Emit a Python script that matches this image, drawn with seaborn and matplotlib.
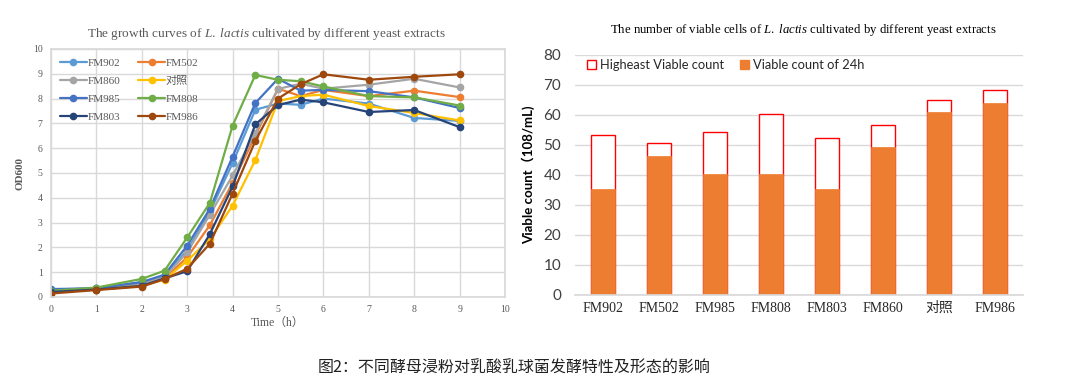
import numpy as np
import pandas as pd
import matplotlib
matplotlib.use("Agg")
import matplotlib.pyplot as plt
import seaborn as sns
from matplotlib.lines import Line2D
from matplotlib.patches import Patch

# ---------------- data ----------------
times = [0, 1, 2, 2.5, 3, 3.5, 4, 4.5, 5, 5.5, 6, 7, 8, 9]
strains = ["FM902", "FM502", "FM860", "对照", "FM985", "FM808", "FM803", "FM986"]
fm902 = [0.30, 0.35, 0.60, 0.85, 1.88, 3.45, 5.40, 7.55, 7.80, 7.75, 8.00, 7.80, 7.22, 7.10]
fm502 = [0.25, 0.30, 0.50, 0.75, 1.60, 2.90, 4.60, 6.50, 8.40, 8.10, 8.35, 8.10, 8.32, 8.06]
fm860 = [0.25, 0.35, 0.55, 0.80, 1.80, 3.32, 4.90, 6.61, 8.39, 8.60, 8.40, 8.56, 8.80, 8.45]
ctrl = [0.20, 0.30, 0.45, 0.70, 1.46, 2.34, 3.68, 5.52, 7.90, 8.10, 8.16, 7.70, 7.42, 7.12]
fm985 = [0.32, 0.35, 0.60, 0.90, 2.07, 3.56, 5.66, 7.82, 8.80, 8.32, 8.35, 8.30, 8.05, 7.62]
fm808 = [0.25, 0.38, 0.73, 1.06, 2.40, 3.80, 6.91, 8.95, 8.76, 8.70, 8.49, 8.10, 8.05, 7.72]
fm803 = [0.20, 0.30, 0.45, 0.75, 1.04, 2.54, 4.46, 6.96, 7.74, 7.96, 7.85, 7.46, 7.54, 6.85]
fm986 = [0.14, 0.28, 0.42, 0.72, 1.14, 2.15, 4.17, 6.29, 8.00, 8.58, 8.98, 8.76, 8.88, 8.98]
series = [fm902, fm502, fm860, ctrl, fm985, fm808, fm803, fm986]
line_colors = ["#5B9BD5", "#ED7D31", "#A5A5A5", "#FFC000", "#4472C4", "#70AD47", "#264478", "#9E480E"]

bar_cats = ["FM902", "FM502", "FM985", "FM808", "FM803", "FM860", "对照", "FM986"]
highest = [53.5, 50.6, 54.2, 60.5, 52.2, 56.7, 64.9, 68.3]
count24 = [35.5, 46.5, 40.2, 40.2, 35.5, 49.4, 61.0, 64.0]

caption = "图2：不同酵母浸粉对乳酸乳球菌发酵特性及形态的影响"

# ---------------- style ----------------
sns.set_theme(style="white")
plt.rcParams["font.family"] = ["Liberation Serif", "Noto Sans CJK SC", "DejaVu Sans"]
plt.rcParams["mathtext.fontset"] = "custom"
plt.rcParams["mathtext.it"] = "Liberation Serif:italic"
plt.rcParams["mathtext.rm"] = "Liberation Serif"
serif = ["Liberation Serif", "Noto Sans CJK SC"]
sans = ["Lato", "Noto Sans CJK SC"]
gtxt = "#595959"

fig = plt.figure(figsize=(10.8, 3.92), dpi=100)
W, H = 1080, 392
def axrect(l, t, r, b):
    return [l / W, 1 - b / H, (r - l) / W, (b - t) / H]

# ---------------- left: growth curves ----------------
ax1 = fig.add_axes(axrect(51, 49, 505, 297))
df = pd.DataFrame({
    "time": np.tile(times, len(strains)),
    "od": np.concatenate(series),
    "strain": np.repeat(strains, len(times)),
})
pal = dict(zip(strains, line_colors))
sns.lineplot(data=df, x="time", y="od", hue="strain", palette=pal, marker="o",
             markersize=5.5, markeredgewidth=0, linewidth=1.6, sort=False,
             legend=False, ax=ax1)
ax1.set_xlim(0, 10)
ax1.set_ylim(0, 10)
ax1.set_xticks(range(0, 11))
ax1.set_yticks(range(0, 11))
ax1.grid(True, color="#D9D9D9", linewidth=1)
for s in ax1.spines.values():
    s.set_color("#D9D9D9")
ax1.tick_params(axis="both", length=0, labelsize=7, labelcolor=gtxt, pad=6)
for lab in ax1.get_xticklabels() + ax1.get_yticklabels():
    lab.set_fontfamily(serif)
ax1.set_xlabel("Time（h）", fontsize=8.5, color=gtxt, family=serif, labelpad=2)
ax1.set_ylabel("OD600", fontsize=8, color=gtxt, fontweight="bold", family=serif, labelpad=6)
ax1.set_title("The growth curves of $\\it{L.\\ lactis}$ cultivated by different yeast extracts",
              fontsize=9.5, color=gtxt, family=serif, pad=9, x=0.475)
order = [0, 2, 4, 6, 1, 3, 5, 7]
handles = [Line2D([], [], color=line_colors[i], marker="o", markersize=5.5,
                  markeredgewidth=0, linewidth=1.6) for i in order]
labels = [strains[i] for i in order]
leg = ax1.legend(handles, labels, ncol=2, loc="upper left", frameon=False,
                 bbox_to_anchor=(0.0, 1.0), labelspacing=0.75,
                 columnspacing=1.6, handlelength=2.4, handletextpad=0.1,
                 borderaxespad=0.4, prop={"family": serif, "size": 8})
for t in leg.get_texts():
    t.set_color(gtxt)

# ---------------- right: viable counts ----------------
ax2 = fig.add_axes(axrect(575, 55, 1023, 295))
bdf = pd.DataFrame({"cat": bar_cats, "high": highest, "c24": count24})
sns.barplot(data=bdf, x="cat", y="high", color="white", edgecolor="#FF0000",
            linewidth=1.0, width=0.42, saturation=1, ax=ax2)
sns.barplot(data=bdf, x="cat", y="c24", color="#ED7D31", edgecolor="#ED7D31",
            linewidth=0.5, width=0.42, saturation=1, ax=ax2)
ax2.set_ylim(0, 80)
ax2.set_yticks(range(0, 81, 10))
ax2.grid(True, axis="y", color="#D9D9D9", linewidth=1)
ax2.grid(False, axis="x")
ax2.set_axisbelow(True)
for k in ["top", "right", "left"]:
    ax2.spines[k].set_visible(False)
ax2.spines["bottom"].set_color("#D9D9D9")
ax2.tick_params(axis="y", length=0, labelsize=11, labelcolor="#404040", pad=10)
ax2.tick_params(axis="x", length=0, labelsize=10, labelcolor="#262626", pad=5)
for lab in ax2.get_yticklabels():
    lab.set_fontfamily(sans)
for lab in ax2.get_xticklabels():
    lab.set_fontfamily(serif)
ax2.set_xlabel("")
ax2.set_ylabel("Viable count（108/mL)", fontsize=9.5, fontweight="bold",
               family=sans, color="#000000", labelpad=6)
ax2.set_title("The number of viable cells of $\\it{L.\\ lactis}$ cultivated by different yeast extracts",
              fontsize=9.2, color="#000000", family=serif, pad=16, x=0.51)
lh = [Patch(facecolor="white", edgecolor="#FF0000", linewidth=1.0),
      Patch(facecolor="#ED7D31", edgecolor="#ED7D31")]
ax2.legend(lh, ["Higheast Viable count", "Viable count of 24h"], ncol=2,
           loc="upper left", bbox_to_anchor=(0.0, 1.03), frameon=False,
           handlelength=0.7, handleheight=0.7, handletextpad=0.3,
           columnspacing=1.3, prop={"family": sans, "size": 9.3})

# ---------------- caption ----------------
fig.text(514 / W, 1 - 368 / H, caption, ha="center", va="center", fontsize=11.5,
         family=["Noto Sans CJK SC", "DejaVu Sans"], color="#222222")

fig.savefig("out.png", dpi=100)
